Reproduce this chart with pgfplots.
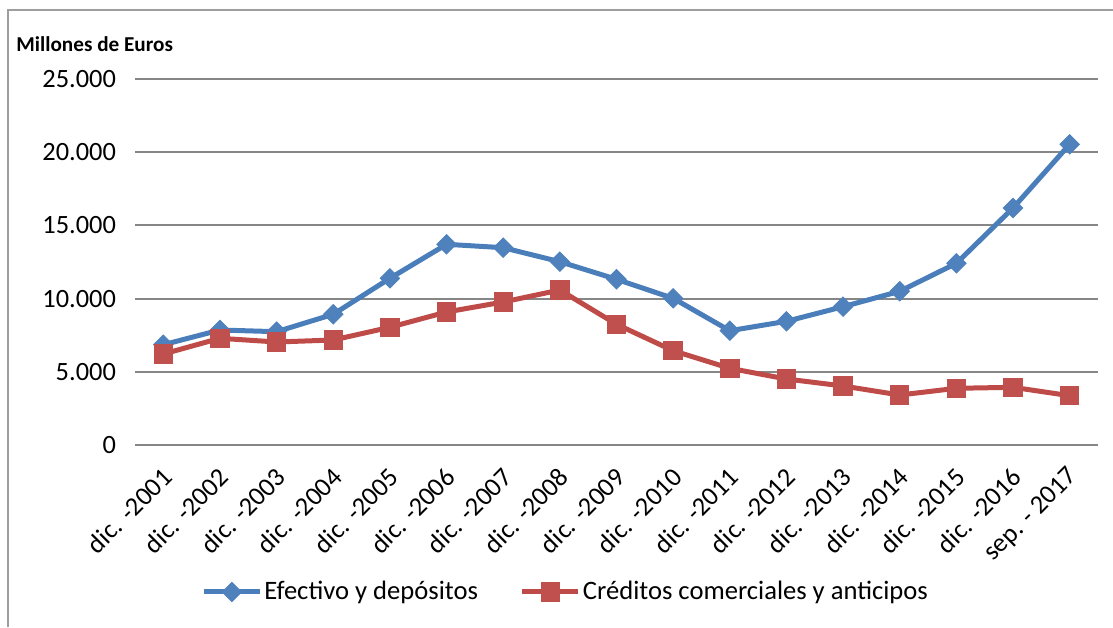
\documentclass[border=0pt]{standalone}
\usepackage{pgfplots}
\pgfplotsset{compat=1.18}
\usepackage{fontspec}
\setmainfont{Carlito}
\definecolor{bline}{HTML}{4A7EBB}
\definecolor{bmark}{HTML}{4F81BD}
\definecolor{rline}{HTML}{BE4B48}
\definecolor{rmark}{HTML}{C0504D}
\definecolor{gridc}{HTML}{868686}
\begin{document}
\begin{tikzpicture}[x=0.5pt,y=0.5pt]
\useasboundingbox (0,0) rectangle (1113,627);
\draw[gridc!80, line width=1pt] (7.5,0) -- (7.5,616.5) -- (1113,616.5);
\node[anchor=west, font=\bfseries\fontsize{10.6}{12}\selectfont, inner sep=0pt] at (16,583) {Millones de Euros};
\begin{axis}[
  at={(67.5pt,91pt)}, anchor=south west,
  width=481.5pt, height=183pt, scale only axis,
  xmin=-0.5, xmax=16.5, ymin=0, ymax=25000,
  ytick={0,5000,10000,15000,20000,25000},
  xtick={0,...,16},
  xticklabels={dic. -2001,dic. -2002,dic. -2003,dic. -2004,dic. -2005,dic. -2006,dic. -2007,dic. -2008,dic. -2009,dic. -2010,dic. -2011,dic. -2012,dic. -2013,dic. -2014,dic. -2015,dic. -2016,sep. - 2017},
  axis line style={draw=none},
  major tick style={draw=none},
  ymajorgrids,
  major grid style={gridc, line width=1pt},
  /pgf/number format/.cd, 1000 sep={.}, assume math mode=true,
  /pgfplots/.cd,
  scaled y ticks=false,
  yticklabel style={font=\fontsize{13.2}{15}\selectfont, anchor=east, xshift=-6pt},
  xticklabel style={font=\fontsize{13.2}{15}\selectfont, rotate=45, anchor=east, xshift=-7.2pt, yshift=-11.2pt, inner sep=1pt},
  legend style={draw=none, at={(0.0623,-0.4016)}, anchor=west, font=\fontsize{13.3}{15}\selectfont, legend columns=2, /tikz/every even column/.append style={column sep=20pt}, nodes={inner sep=1pt}},
  legend image code/.code={\draw[mark repeat=2,mark phase=2,#1] plot coordinates {(0pt,0pt) (14pt,0pt) (28pt,0pt)};},
]
\addplot[bline, line width=2.5pt, mark=square*, mark size=3.4pt, mark options={bmark, solid, rotate=45, line width=0.5pt}] coordinates {
(0,6850) (1,7855) (2,7740) (3,8928) (4,11386) (5,13709) (6,13477) (7,12520) (8,11318) (9,10020) (10,7807) (11,8449) (12,9447) (13,10498) (14,12411) (15,16189) (16,20540)};
\addlegendentry{Efectivo y depósitos}
\addplot[rline, line width=2.5pt, mark=square*, mark size=4.6pt, mark options={rmark, solid, line width=0.5pt}] coordinates {
(0,6216) (1,7288) (2,7036) (3,7172) (4,8040) (5,9085) (6,9768) (7,10587) (8,8245) (9,6441) (10,5239) (11,4508) (12,4030) (13,3415) (14,3873) (15,3941) (16,3368)};
\addlegendentry{Créditos comerciales y anticipos}
\end{axis}
\end{tikzpicture}
\end{document}
